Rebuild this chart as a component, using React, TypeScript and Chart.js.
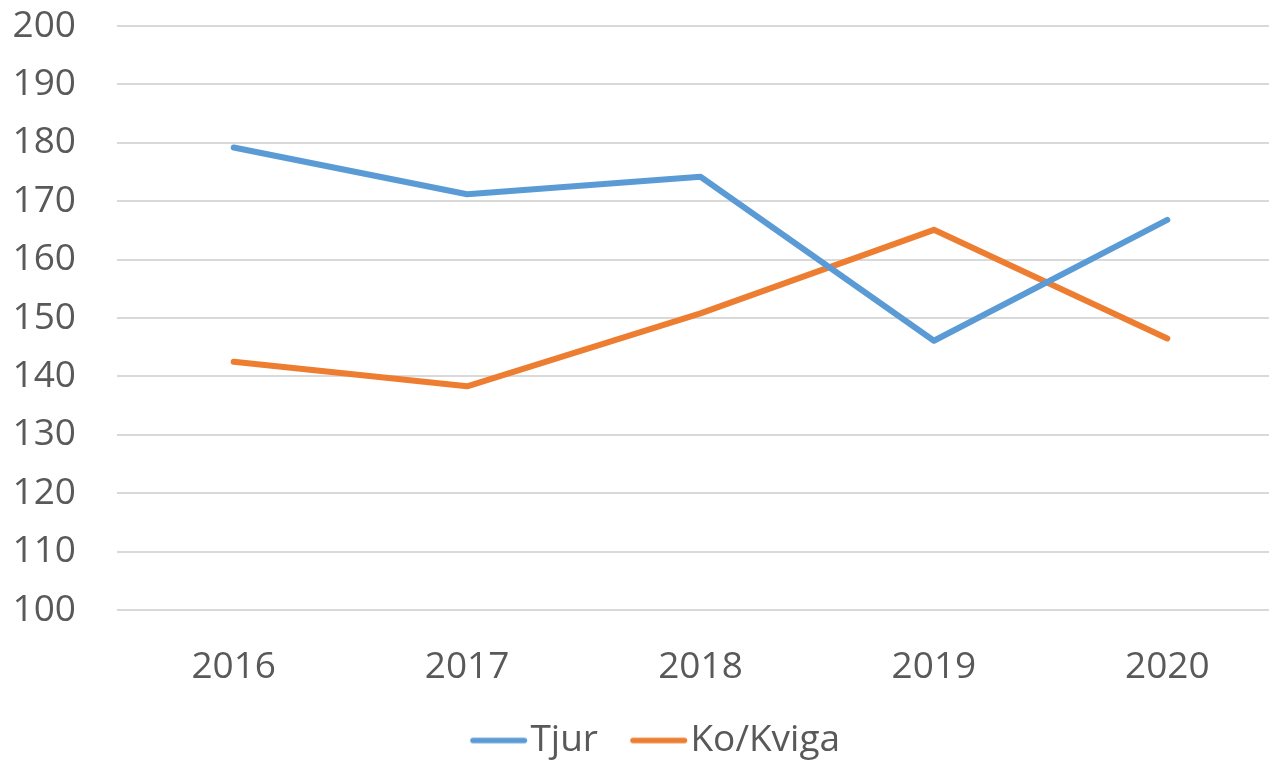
import React, { useEffect, useRef } from "react";
import { Chart, registerables } from "chart.js";

Chart.register(...registerables);

const years = ["2016", "2017", "2018", "2019", "2020"];
const tjur = [179.2, 171.2, 174.2, 146.1, 166.8];
const koKviga = [142.5, 138.3, 150.8, 165.1, 146.5];
const seriesNames = ["Tjur", "Ko/Kviga"];
const seriesColors = ["#5B9BD5", "#ED7D31"];
const yMin = 100;
const yMax = 200;
const yStep = 10;

const FONT = "'Open Sans', 'Noto Sans', sans-serif";
const TEXT = "#595959";

function legendLine(color: string): HTMLCanvasElement {
  const c = document.createElement("canvas");
  c.width = 84;
  c.height = 8;
  const ctx = c.getContext("2d")!;
  ctx.strokeStyle = color;
  ctx.lineWidth = 5.5;
  ctx.lineCap = "round";
  ctx.beginPath();
  ctx.moveTo(24, 4);
  ctx.lineTo(75.5, 4);
  ctx.stroke();
  return c;
}

const legendShift = {
  id: "legendShift",
  afterLayout(chart: any) {
    if (chart.legend) chart.legend.left += 12;
  },
};

export default function App() {
  const ref = useRef<HTMLCanvasElement | null>(null);

  useEffect(() => {
    if (!ref.current) return;
    const mk = (i: number, data: number[]) => ({
      label: seriesNames[i],
      data,
      borderColor: seriesColors[i],
      backgroundColor: seriesColors[i],
      borderWidth: 6,
      borderCapStyle: "round" as const,
      borderJoinStyle: "round" as const,
      pointRadius: 0,
      pointHoverRadius: 0,
      pointStyle: legendLine(seriesColors[i]) as any,
      tension: 0,
    });
    const chart = new Chart(ref.current, {
      type: "line",
      data: {
        labels: years,
        datasets: [mk(0, tjur), mk(1, koKviga)],
      },
      plugins: [legendShift],
      options: {
        responsive: false,
        animation: false,
        layout: { autoPadding: false, padding: { left: 14, top: 26, right: 30, bottom: 0 } },
        plugins: {
          tooltip: { enabled: false },
          legend: {
            position: "bottom",
            labels: {
              usePointStyle: true,
              pointStyleWidth: 42,
              boxHeight: 5,
              padding: 32,
              color: TEXT,
              font: { family: FONT, size: 37 },
            },
          },
        },
        scales: {
          x: {
            type: "category",
            offset: true,
            grid: { display: false, drawTicks: false },
            border: { display: false },
            ticks: {
              color: TEXT,
              font: { family: FONT, size: 37 },
              padding: 35,
              maxRotation: 0,
            },
            afterFit: (s: any) => {
              s.height = 80;
              s.paddingLeft = 0;
              s.paddingRight = 0;
            },
          },
          y: {
            min: yMin,
            max: yMax,
            grid: { color: "#D9D9D9", lineWidth: 2, drawTicks: false },
            border: { display: false },
            ticks: {
              stepSize: yStep,
              color: TEXT,
              font: { family: FONT, size: 37 },
              padding: 41,
            },
            afterFit: (s: any) => {
              s.width = 103;
              s.paddingTop = 0;
              s.paddingBottom = 0;
            },
          },
        },
      },
    });
    return () => chart.destroy();
  }, []);

  return (
    <div
      style={{
        position: "absolute",
        left: 0,
        top: 0,
        width: 1269,
        height: 762,
        overflow: "hidden",
        background: "#fff",
      }}
    >
      <canvas ref={ref} width={1314} height={769} style={{ display: "block" }} />
    </div>
  );
}
